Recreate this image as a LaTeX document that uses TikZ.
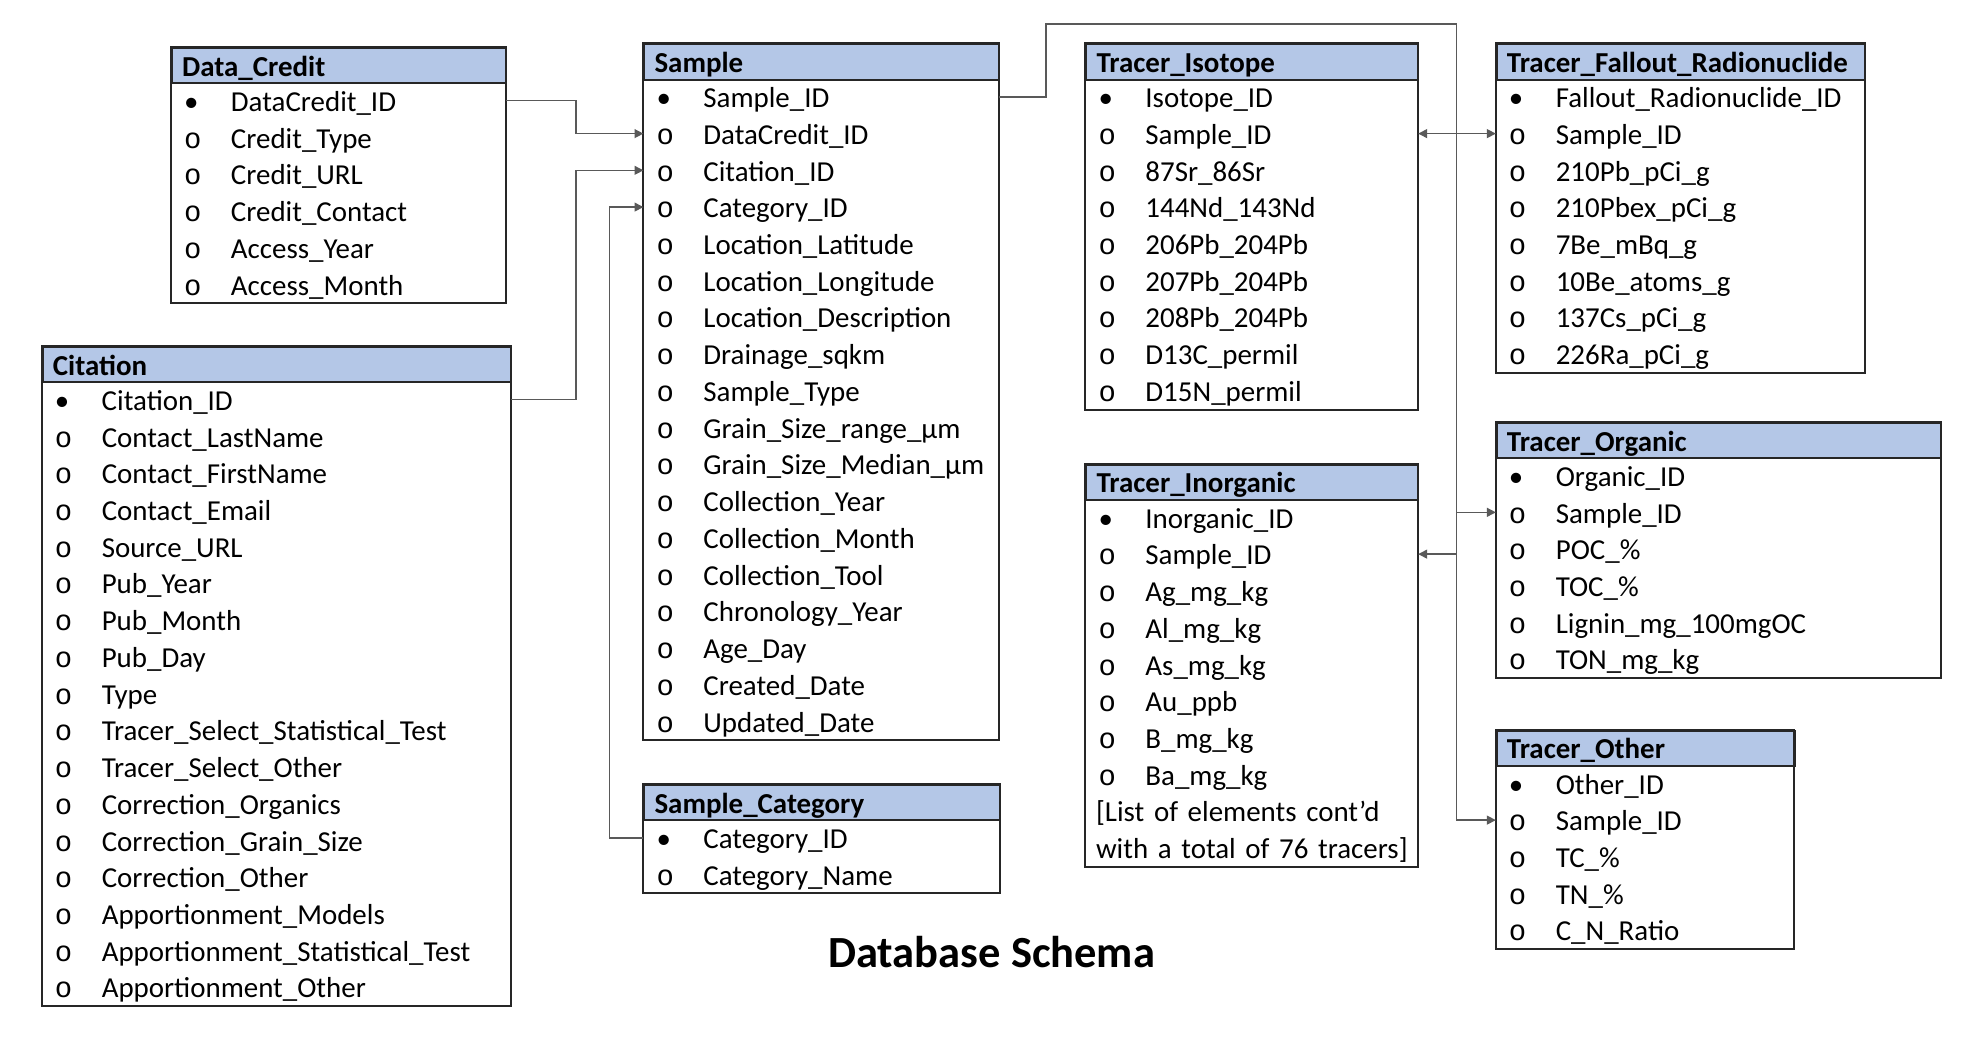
\documentclass[tikz,border=0pt]{standalone}
\usepackage{fontspec}
\setmainfont{Carlito}
\newfontfamily\bulletfont{Liberation Mono}
\usepackage{tikz}
\usetikzlibrary{arrows.meta,positioning}
\definecolor{erheadblue}{HTML}{B4C7E7}
\definecolor{erline}{HTML}{262626}
\definecolor{fkline}{HTML}{595959}
\tikzset{
  erhead/.style={draw=erline, fill=erheadblue, line width=0.9pt,
    anchor=north west, inner sep=0pt, minimum height=0.56cm, align=left,
    font=\fontsize{13}{15}\selectfont\bfseries, text height=10.8pt, text depth=1.2pt},
  erfield/.style={anchor=west, inner sep=0pt, minimum height=0.58cm, align=left,
    font=\fontsize{13}{15}\selectfont, text height=10.8pt, text depth=1.2pt},
  erframe/.style={draw=erline, line width=0.9pt},
  fk/.style={-{Triangle[length=4pt, width=4pt]}, fkline, line width=0.6pt},
  fkboth/.style={{Triangle[length=4pt, width=4pt]}-{Triangle[length=4pt, width=4pt]},
    fkline, line width=0.6pt},
}
\newcommand{\ermarkk}{\makebox[0.94cm][l]{\hspace*{0.2cm}\textbullet}}
\newcommand{\ermarko}{\makebox[0.94cm][l]{\hspace*{0.2cm}{\bulletfont o}}}
\newcommand{\ermarkn}{\hspace*{0.16cm}}
% #1 name, #2 x, #3 top, #4 width, #5 title, #6 mark/field list
\newcommand{\ertable}[6]{%
  \pgfmathsetlengthmacro{\erwidth}{#4*0.02cm}
  \node[erhead, text width=\erwidth] (#1) at (#2,#3) {\hspace*{0.16cm}#5};
  \foreach \mk/\fld [count=\i] in {#6} {
    \node[erfield, text width=\erwidth] (#1-\i) at (#2,{#3+28+(\i-0.5)*29})
      {\csname ermark\mk\endcsname\fld};
    \xdef\erlast{\i}
  }
  \draw[erframe] (#1.north west) rectangle (#1-\erlast.south east);
}

\begin{document}
\begin{tikzpicture}[x=0.02cm, y=-0.02cm]
\useasboundingbox (0,0) rectangle (1568,827);

%% Tables
\ertable{credit}{135}{37}{264}{Data\_Credit}{k/DataCredit\_ID, o/Credit\_Type,
  o/Credit\_URL, o/Credit\_Contact, o/Access\_Year, o/Access\_Month}
\ertable{cite}{33}{273}{370}{Citation}{k/Citation\_ID, o/Contact\_LastName,
  o/Contact\_FirstName, o/Contact\_Email, o/Source\_URL, o/Pub\_Year, o/Pub\_Month,
  o/Pub\_Day, o/Type, o/Tracer\_Select\_Statistical\_Test, o/Tracer\_Select\_Other,
  o/Correction\_Organics, o/Correction\_Grain\_Size, o/Correction\_Other,
  o/Apportionment\_Models, o/Apportionment\_Statistical\_Test, o/Apportionment\_Other}
\ertable{sample}{508}{34}{280}{Sample}{k/Sample\_ID, o/DataCredit\_ID, o/Citation\_ID,
  o/Category\_ID, o/Location\_Latitude, o/Location\_Longitude, o/Location\_Description,
  o/Drainage\_sqkm, o/Sample\_Type, o/Grain\_Size\_range\_µm, o/Grain\_Size\_Median\_µm,
  o/Collection\_Year, o/Collection\_Month, o/Collection\_Tool, o/Chronology\_Year,
  o/Age\_Day, o/Created\_Date, o/Updated\_Date}
\ertable{scat}{508}{619}{281}{Sample\_Category}{k/Category\_ID, o/Category\_Name}
\ertable{iso}{857}{34}{262}{Tracer\_Isotope}{k/Isotope\_ID, o/Sample\_ID, o/87Sr\_86Sr,
  o/144Nd\_143Nd, o/206Pb\_204Pb, o/207Pb\_204Pb, o/208Pb\_204Pb, o/D13C\_permil,
  o/D15N\_permil}
\ertable{inorg}{857}{366}{262}{Tracer\_Inorganic}{k/Inorganic\_ID, o/Sample\_ID,
  o/Ag\_mg\_kg, o/Al\_mg\_kg, o/As\_mg\_kg, o/Au\_ppb, o/B\_mg\_kg, o/Ba\_mg\_kg,
  n/{[List of elements cont’d}, n/{with a total of 76 tracers]}}
\ertable{fall}{1181}{34}{291}{Tracer\_Fallout\_Radionuclide}{k/Fallout\_Radionuclide\_ID,
  o/Sample\_ID, o/210Pb\_pCi\_g, o/210Pbex\_pCi\_g, o/7Be\_mBq\_g, o/10Be\_atoms\_g,
  o/137Cs\_pCi\_g, o/226Ra\_pCi\_g}
\ertable{org}{1181}{333}{351}{Tracer\_Organic}{k/Organic\_ID, o/Sample\_ID, o/POC\_\%,
  o/TOC\_\%, o/Lignin\_mg\_100mgOC, o/TON\_mg\_kg}
\ertable{other}{1181}{576}{235}{Tracer\_Other}{k/Other\_ID, o/Sample\_ID, o/TC\_\%,
  o/TN\_\%, o/C\_N\_Ratio}

\node[font=\fontsize{20}{24}\selectfont\bfseries] (title) at (783,752) {Database Schema};

%% Keys
\coordinate (trunk) at (1150,19);
\draw[fk] (credit-1.east) -- ++(55,0) |- (sample-2.west);
\draw[fk] (cite-1.east) -- ++(51,0) |- (sample-3.west);
\draw[fk] (scat-1.west) -- ++(-27,0) |- (sample-4.west);
\draw[fk] (sample-1.east) -- ++(37,0) |- (trunk) |- (other-2.west);
\draw[fkboth] (iso-2.east) -- (fall-2.west);
\draw[fk] (trunk |- org-2.west) -- (org-2.west);
\draw[fk] (trunk |- inorg-2.east) -- (inorg-2.east);
\end{tikzpicture}
\end{document}
